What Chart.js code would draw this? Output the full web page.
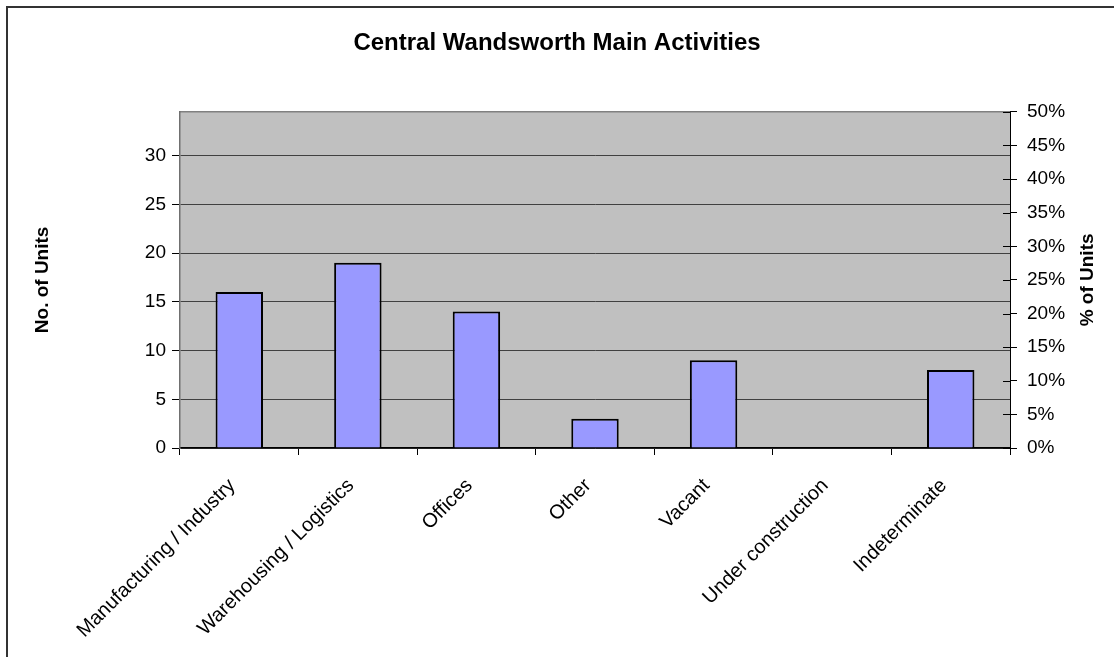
<!DOCTYPE html>
<html>
<head>
<meta charset="utf-8">
<title>Central Wandsworth Main Activities</title>
<script src="https://cdn.jsdelivr.net/npm/chart.js@4.4.0/dist/chart.umd.min.js"></script>
<style>
  html, body { margin: 0; padding: 0; background: #fff; overflow: hidden; }
  #frame { position: absolute; left: 6px; top: 6px; width: 1200px; height: 800px; border-top: 2px solid #333; border-left: 2px solid #333; }
  #wrap { position: absolute; left: 0; top: 0; width: 1114px; height: 657px; }
</style>
</head>
<body>
<div id="frame"></div>
<div id="wrap"><canvas id="activityChart"></canvas></div>
<script>
const activities = ['Manufacturing / Industry', 'Warehousing / Logistics', 'Offices', 'Other', 'Vacant', 'Under construction', 'Indeterminate'];
const units = [16, 19, 14, 3, 9, 0, 8];
const unitTicks = [0, 5, 10, 15, 20, 25, 30];
const percentTicks = [0, 5, 10, 15, 20, 25, 30, 35, 40, 45, 50];

// the % axis tops out at 50%, so the unit axis goes to half the total
const totalUnits = units.reduce((a, b) => a + b, 0);
const unitsMax = totalUnits * 0.5;

const FONT = 'Liberation Sans, Arial, Helvetica, sans-serif';
Chart.defaults.font.family = FONT;
Chart.defaults.color = '#000';

// grey plot background, right axis title and the inner half of the % ticks
const plotExtras = {
  id: 'plotExtras',
  beforeDraw(chart) {
    const { ctx, chartArea: a } = chart;
    ctx.save();
    ctx.fillStyle = '#c0c0c0';
    ctx.fillRect(a.left, a.top, a.right - a.left, a.bottom - a.top);
    ctx.strokeStyle = '#808080';
    ctx.lineWidth = 1.5;
    ctx.beginPath();
    ctx.moveTo(a.left, a.top);
    ctx.lineTo(a.right, a.top);
    ctx.stroke();
    ctx.restore();
  },
  afterDraw(chart) {
    const { ctx, chartArea: a } = chart;
    const pct = chart.scales.y2;
    ctx.save();
    ctx.strokeStyle = '#000';
    ctx.lineWidth = 1;
    pct.ticks.forEach(t => {
      const y = Math.round(pct.getPixelForValue(t.value)) + 0.5;
      ctx.beginPath();
      ctx.moveTo(a.right - 7, y);
      ctx.lineTo(a.right, y);
      ctx.stroke();
    });
    ctx.translate(1088, (a.top + a.bottom) / 2);
    ctx.rotate(-Math.PI / 2);
    ctx.font = 'bold 19px ' + FONT;
    ctx.fillStyle = '#000';
    ctx.textAlign = 'center';
    ctx.textBaseline = 'middle';
    ctx.fillText('% of Units', 0, 0);
    ctx.restore();
  }
};

const ctx = document.getElementById('activityChart').getContext('2d');

new Chart(ctx, {
  type: 'bar',
  data: {
    labels: activities,
    datasets: [
      {
        label: 'No. of Units',
        data: units,
        yAxisID: 'y',
        backgroundColor: '#9999ff',
        borderColor: '#000',
        borderWidth: 2,
        barPercentage: 0.4,
        categoryPercentage: 1.0,
      },
    ],
  },
  options: {
    responsive: true,
    maintainAspectRatio: false,
    animation: false,
    layout: { padding: 0 },
    plugins: {
      legend: { display: false },
      tooltip: { enabled: false },
      title: {
        display: true,
        text: 'Central Wandsworth Main Activities',
        color: '#000',
        font: { size: 24, weight: 'bold' },
        padding: { top: 29, bottom: 54 },
      },
    },
    scales: {
      x: {
        afterFit: s => { s.height = 209; },
        grid: { offset: true, drawOnChartArea: false, tickLength: 7, tickColor: '#000' },
        border: { color: '#000', width: 1.5 },
        ticks: { maxRotation: 45, minRotation: 45, font: { size: 20 }, padding: 19, labelOffset: -7, autoSkip: false },
      },
      y: {
        position: 'left',
        min: 0,
        max: unitsMax,
        afterBuildTicks: s => { s.ticks = unitTicks.map(value => ({ value })); },
        afterFit: s => { s.width = 180; },
        grid: { color: '#404040', lineWidth: 1, tickLength: 8, tickColor: '#000' },
        border: { color: '#707070', width: 1.5 },
        ticks: { font: { size: 19 }, padding: 6 },
        title: {
          display: true,
          text: 'No. of Units',
          font: { size: 19, weight: 'bold' },
          padding: { top: 31 },
        },
      },
      y2: {
        position: 'right',
        min: 0,
        max: 50,
        afterBuildTicks: s => { s.ticks = percentTicks.map(value => ({ value })); },
        afterFit: s => { s.width = 104; },
        grid: { drawOnChartArea: false, tickLength: 7, tickColor: '#000' },
        border: { color: '#000', width: 1 },
        ticks: { font: { size: 19 }, padding: 10, callback: v => v + '%' },
      },
    },
  },
  plugins: [plotExtras],
});
</script>
</body>
</html>
